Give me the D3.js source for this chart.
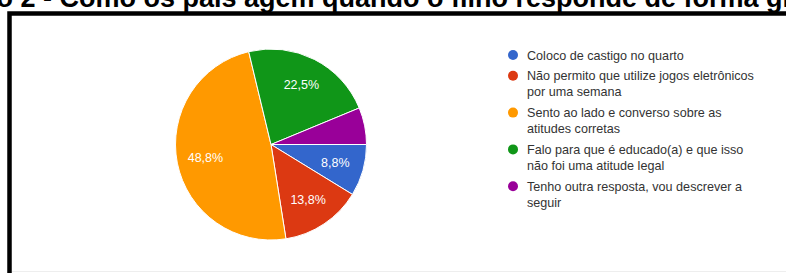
<!DOCTYPE html>
<html>
<head>
<meta charset="utf-8">
<script src="https://cdn.jsdelivr.net/npm/d3@7"></script>
<style>
  body { margin: 0; background: #fff; }
  svg { display: block; }
</style>
</head>
<body>
<script>
// answers (counts from 80 respondents -> 8,8% 13,8% 48,8% 22,5% 6,3%)
var categories = [
  "Coloco de castigo no quarto",
  "Não permito que utilize jogos eletrônicos por uma semana",
  "Sento ao lado e converso sobre as atitudes corretas",
  "Falo para que é educado(a) e que isso não foi uma atitude legal",
  "Tenho outra resposta, vou descrever a seguir"
];
var counts = [7, 11, 39, 18, 5];
var colors = ["#3366cc", "#dc3912", "#ff9900", "#109618", "#990099"];
var title = "Gráfico 2 - Como os pais agem quando o filho responde de forma grosseira?";

var width = 786, height = 273;

var svg = d3.select("body").append("svg")
    .attr("width", width)
    .attr("height", height);

// title, cut at the top like in the scan
svg.append("text")
    .attr("x", -81.5)
    .attr("y", 6.5)
    .attr("font-family", "Liberation Sans, Arial, sans-serif")
    .attr("font-weight", "bold")
    .attr("font-size", 27)
    .attr("fill", "#000")
    .text(title);

// frame
svg.append("line")
    .attr("x1", 12).attr("x2", width)
    .attr("y1", 271.5).attr("y2", 271.5)
    .attr("stroke", "#eeeeee");
svg.append("path")
    .attr("d", "M9.5," + height + "V13.5H" + width)
    .attr("fill", "none")
    .attr("stroke", "#000")
    .attr("stroke-width", 4.5);

// pie
var total = d3.sum(counts);
var radius = 95.5;
var pie = d3.pie().sort(null)
    .startAngle(Math.PI / 2)
    .endAngle(Math.PI / 2 + 2 * Math.PI);
var arc = d3.arc().innerRadius(0).outerRadius(radius);
var labelArc = d3.arc().innerRadius(radius * 0.7).outerRadius(radius * 0.7);

var g = svg.append("g").attr("transform", "translate(271,144.5)");

var slices = pie(counts);
g.selectAll(".slice")
    .data(slices)
  .enter().append("path")
    .attr("class", "slice")
    .attr("d", arc)
    .attr("fill", function(d, i) { return colors[i]; })
    .attr("stroke", "#fff")
    .attr("stroke-width", 1);

g.selectAll(".lbl")
    .data(slices.filter(function(d) { return d.data / total > 0.07; }))
  .enter().append("text")
    .attr("class", "lbl")
    .attr("transform", function(d) { return "translate(" + labelArc.centroid(d) + ")"; })
    .attr("dy", "0.35em")
    .attr("text-anchor", "middle")
    .attr("font-family", "Liberation Sans, Arial, sans-serif")
    .attr("font-size", 12.5)
    .attr("fill", "#fff")
    .text(function(d) { return (d.data / total * 100).toFixed(1).replace(".", ",") + "%"; });

// legend
var legend = svg.append("g");
var y = 55, maxW = 236, lineH = 16;

categories.forEach(function(c, i) {
  legend.append("circle")
      .attr("cx", 513).attr("cy", y).attr("r", 5)
      .attr("fill", colors[i]);

  var t = legend.append("text")
      .attr("x", 527)
      .attr("y", y + 4.5)
      .attr("font-family", "Liberation Sans, Arial, sans-serif")
      .attr("font-size", 12.6)
      .attr("fill", "#333");

  var words = c.split(" "), line = [], n = 0;
  var ts = t.append("tspan").attr("x", 527).attr("dy", 0);
  words.forEach(function(w) {
    line.push(w);
    ts.text(line.join(" "));
    if (ts.node().getComputedTextLength() > maxW && line.length > 1) {
      line.pop();
      ts.text(line.join(" "));
      line = [w];
      n++;
      ts = t.append("tspan").attr("x", 527).attr("dy", lineH).text(w);
    }
  });
  y += n * lineH + 20.8;
});
</script>
</body>
</html>
